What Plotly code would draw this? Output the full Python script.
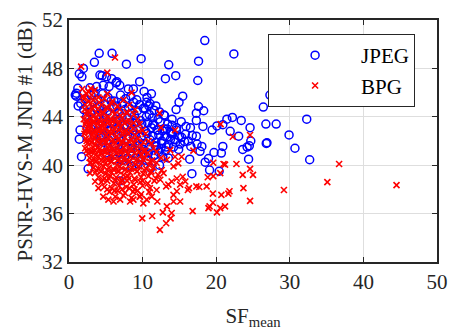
import plotly.graph_objects as go

# ---------------- JPEG (blue circles) ----------------
jpeg_sf = [
    9.8, 4.1, 5.85, 3.45, 1.95, 7.8, 18.45, 22.4, 17.6, 13.55,
    14.5, 13.1, 17.5, 9.6, 10.2, 15.45, 14.95, 14.55, 17.6, 18.3,
    17.3, 14.0, 15.25, 17.3, 21.45, 22.2, 23.4, 20.9, 20.1, 16.5,
    18.2, 19.45, 24.6, 26.4, 26.75, 28.15, 32.3, 27.3, 44.2, 29.9,
    30.7, 32.7, 26.8, 26.9, 24.4, 24.5, 23.6, 24.2, 24.7, 23.05,
    21.9, 20.9, 20.7, 20.4, 19.1, 19.7, 18.5, 18.95, 17.8, 18.05,
    17.4, 16.55, 16.4, 16.7, 17.3, 16.75, 15.8, 15.7, 15.1, 14.4,
    13.8, 13.05, 12.7, 12.9, 11.55, 10.85, 10.55, 11.4, 12.0, 11.9,
    11.7, 12.75, 12.3, 10.8, 11.1,
    1.0, 1.2, 1.4, 1.75, 1.25, 1.5, 1.4, 1.7, 2.6, 0.85,
    4.2, 5.1, 6.4, 6.9, 8.06, 2.85, 3.4, 3.75, 4.65, 5.45,
    8.75, 6.5, 5.8, 4.5,
    13.3, 13.9, 14.6, 15.3, 14.2, 13.1, 12.6, 14.9, 15.9, 16.2, 13.5, 14.0,
    1.0, 2.2, 3.0, 3.9, 4.6, 5.3, 6.1, 7.0, 7.7, 8.4, 9.2, 10.6, 11.2,
    1.6, 2.5, 3.3, 4.2, 4.9, 5.7, 6.5, 7.3, 8.1, 8.8, 9.6, 10.3, 11.0, 11.8,
    2.0, 2.9, 3.7, 4.5, 5.2, 6.0, 6.8, 7.6, 8.5, 9.3, 10.1, 10.9, 12.3,
    2.4, 3.2, 4.0, 4.8, 5.6, 6.4, 7.2, 8.0, 8.9, 9.7, 10.5, 11.3, 12.1, 13.0,
    2.7, 3.6, 4.4, 5.1, 5.9, 6.7, 7.5, 8.3, 9.1, 9.9, 10.7, 11.6, 12.4, 13.4,
    3.0, 3.9, 4.7, 5.5, 6.3, 7.1, 7.9, 8.7, 9.5, 10.4, 11.2, 12.0, 12.9, 13.8, 14.6,
    3.4, 4.3, 5.0, 5.8, 6.6, 7.4, 8.2, 9.0, 9.8, 10.6, 11.4, 12.2, 13.3, 14.1, 15.0,
    3.8, 4.6, 5.4, 6.2, 7.0, 7.8, 8.6, 9.4, 10.2, 11.0, 11.8, 12.6, 13.5, 14.5,
    4.5, 5.3, 6.1, 6.9, 7.7, 8.5, 9.3, 10.1, 10.9, 11.7, 12.5, 13.2,
    5.0, 6.0, 6.8, 7.6, 8.4, 9.2, 10.0, 10.8, 11.5, 12.2,
    6.3, 7.2, 8.0, 8.9, 9.7, 10.5,
    7.5, 8.5, 9.4, 6.9,
]
jpeg_psnr = [
    48.8, 49.25, 49.25, 48.5, 48.0, 48.35, 50.3, 49.2, 48.6, 48.3,
    47.4, 47.15, 47.0, 46.9, 46.1, 45.7, 45.2, 44.6, 44.85, 44.5,
    44.3, 43.8, 43.6, 43.7, 43.8, 43.95, 43.7, 43.35, 43.25, 43.1,
    43.2, 42.9, 43.1, 44.8, 43.4, 43.4, 43.8, 45.8, 45.8, 42.5,
    41.4, 40.45, 41.8, 41.85, 40.5, 41.6, 41.3, 41.5, 42.0, 42.4,
    42.8, 41.55, 41.0, 39.5, 39.6, 41.05, 40.25, 40.55, 41.15, 41.55,
    41.75, 41.55, 40.5, 39.3, 42.4, 42.45, 42.55, 41.95, 41.75, 42.1,
    42.15, 42.4, 42.85, 44.15, 44.55, 44.9, 45.2, 43.4, 42.9, 41.55,
    40.85, 40.7, 40.0, 40.45, 39.75,
    45.95, 46.35, 47.55, 47.3, 44.9, 42.9, 42.15, 40.7, 39.7, 45.8,
    47.45, 47.3, 46.8, 46.6, 46.3, 46.4, 46.0, 46.5, 46.6, 46.5,
    46.3, 46.9, 47.15, 47.4,
    43.0, 42.6, 42.9, 42.3, 41.5, 41.2, 41.8, 41.3, 43.2, 42.0, 40.6, 43.3,
    45.7, 45.5, 45.8, 45.4, 45.9, 45.6, 45.3, 45.8, 45.5, 45.7, 45.4, 45.6, 45.9,
    45.1, 44.9, 45.2, 44.8, 45.0, 45.3, 44.9, 45.1, 44.8, 45.2, 45.0, 44.7, 45.1, 44.9,
    44.6, 44.4, 44.7, 44.3, 44.5, 44.8, 44.4, 44.6, 44.3, 44.5, 44.7, 44.2, 44.4,
    44.0, 43.8, 44.1, 43.9, 44.2, 43.8, 44.0, 43.9, 44.1, 43.7, 44.0, 43.9, 43.8, 44.1,
    43.5, 43.3, 43.6, 43.4, 43.5, 43.7, 43.3, 43.5, 43.6, 43.4, 43.5, 43.3, 43.6, 43.4,
    43.0, 42.8, 43.1, 42.9, 43.0, 42.8, 43.2, 42.9, 43.0, 42.8, 43.1, 42.9, 43.0, 42.7, 43.1,
    42.5, 42.4, 42.6, 42.3, 42.5, 42.7, 42.4, 42.5, 42.3, 42.6, 42.4, 42.5, 42.3, 42.6, 42.4,
    42.0, 41.9, 42.1, 41.8, 42.0, 42.2, 41.9, 42.0, 41.8, 42.1, 41.9, 42.0, 41.7, 41.9,
    41.5, 41.4, 41.6, 41.3, 41.5, 41.4, 41.6, 41.3, 41.5, 41.6, 41.4, 41.5,
    41.0, 40.9, 41.1, 40.8, 41.0, 41.2, 40.9, 41.0, 40.8, 41.1,
    40.5, 40.4, 40.6, 40.3, 40.5, 40.4,
    40.0, 39.9, 40.1, 38.7,
]

# ---------------- BPG (red crosses) ----------------
bpg_sf = [
    1.65, 6.25, 5.2, 8.5, 2.95, 20.6, 22.25, 24.6, 14.4, 16.9,
    19.6, 21.0, 21.2, 22.75, 24.6, 25.0, 23.6, 20.55, 19.6, 18.85,
    18.7, 17.7, 17.3, 16.15, 16.3, 19.55, 20.7, 21.65, 21.8, 23.7,
    24.6, 18.95, 19.1, 19.55, 20.1, 20.55, 21.2, 16.8, 29.2, 35.1,
    36.7, 44.5, 9.95, 11.3, 12.35, 13.2, 13.8, 13.95, 12.75, 13.3,
    12.0, 14.2, 15.1, 14.2, 14.65, 15.1, 15.8, 15.45, 14.65, 13.95,
    13.5, 13.2, 14.2, 14.85, 15.3, 14.4, 13.75, 13.3, 12.85, 12.4,
    11.9, 11.25, 10.55, 10.1, 9.65, 8.75, 8.3, 6.95, 6.05, 5.35,
    4.65, 4.0, 3.55, 2.85, 2.85,
    1.8, 2.6, 3.5,
    1.9, 2.4, 3.1, 4.0, 5.2,
    2.0, 2.7, 3.3, 4.1, 4.8, 5.9, 7.4,
    2.2, 2.9, 3.6, 4.4, 5.1, 5.8, 6.6, 8.2,
    2.1, 2.6, 3.2, 3.9, 4.6, 5.3, 6.0, 6.9, 7.8, 9.0,
    2.3, 2.8, 3.4, 4.0, 4.7, 5.4, 6.2, 7.0, 7.9, 8.8, 12.3,
    2.0, 2.5, 3.0, 3.6, 4.3, 5.0, 5.7, 6.4, 7.2, 8.1, 9.3,
    2.2, 2.7, 3.3, 3.9, 4.5, 5.2, 5.9, 6.7, 7.5, 8.4, 9.6,
    2.4, 2.9, 3.5, 4.1, 4.8, 5.5, 6.2, 7.0, 7.8, 8.7, 10.0, 12.5,
    2.1, 2.6, 3.2, 3.8, 4.4, 5.1, 5.8, 6.5, 7.3, 8.1, 9.0, 10.4,
    2.3, 2.8, 3.4, 4.0, 4.7, 5.3, 6.0, 6.8, 7.6, 8.5, 9.4, 10.8,
    2.5, 3.0, 3.6, 4.2, 4.9, 5.6, 6.3, 7.1, 7.9, 8.8, 9.8, 11.2,
    2.2, 2.7, 3.3, 3.9, 4.5, 5.2, 5.9, 6.6, 7.4, 8.2, 9.1, 10.1, 11.5,
    2.6, 3.1, 3.7, 4.3, 5.0, 5.7, 6.4, 7.2, 8.0, 8.9, 9.8, 10.7, 11.9,
    2.8, 3.4, 4.0, 4.6, 5.3, 6.0, 6.8, 7.6, 8.4, 9.3, 10.3, 11.3, 12.5,
    3.0, 3.6, 4.3, 5.0, 5.7, 6.5, 7.3, 8.1, 9.0, 9.9, 10.9, 11.9,
    3.3, 4.0, 4.7, 5.4, 6.1, 6.9, 7.7, 8.6, 9.5, 10.5, 11.5, 12.6,
    3.6, 4.3, 5.0, 5.8, 6.6, 7.4, 8.3, 9.2, 10.1, 11.1, 12.1,
    4.0, 4.8, 5.6, 6.4, 7.2, 8.0, 8.9, 9.8, 10.8, 11.8,
    4.4, 5.2, 6.1, 7.0, 7.9, 8.8, 9.7, 10.7, 11.6,
    4.8, 5.8, 6.8, 7.8, 8.9, 10.0, 11.0,
    5.5, 6.6, 7.6, 8.7, 9.8, 10.9,
    6.3, 7.4, 8.5, 9.6,
    2.3, 2.8, 3.4, 4.1, 4.7, 5.4, 6.1, 6.9, 7.8, 8.8,
    2.2, 2.7, 3.3, 4.0, 4.6, 5.3, 6.0, 6.8, 7.6, 8.4, 9.5,
    2.4, 3.1, 3.8, 4.5, 5.1, 5.8, 6.6, 7.3, 8.1, 9.0, 10.1,
    2.4, 2.9, 3.5, 4.1, 4.8, 5.5, 6.2, 6.9, 7.7, 8.5, 9.5, 10.4,
    3.1, 3.7, 4.4, 5.1, 5.8, 6.6, 7.4, 8.2, 9.1, 10.0, 11.0,
    3.7, 4.4, 5.2, 6.0, 6.8, 7.6, 8.4, 9.3, 10.2, 11.2,
    4.6, 5.4, 6.3, 7.2, 8.1, 9.0, 10.0,
    5.2, 6.2, 7.2, 8.2, 9.3,
]
bpg_psnr = [
    48.15, 48.9, 47.65, 46.0, 46.35, 43.4, 42.35, 42.5, 42.9, 41.2,
    40.2, 40.1, 40.05, 40.1, 39.7, 39.2, 39.2, 39.35, 39.1, 39.0,
    38.25, 38.2, 38.25, 37.95, 38.1, 37.65, 37.55, 37.65, 37.85, 38.1,
    37.05, 36.45, 36.6, 36.9, 36.1, 36.45, 36.6, 36.2, 37.95, 38.6,
    40.1, 38.35, 35.6, 35.8, 34.65, 35.2, 35.6, 36.05, 36.1, 36.6,
    37.0, 37.0, 37.0, 37.55, 37.85, 38.4, 38.65, 39.05, 38.9, 38.65,
    38.4, 38.25, 39.9, 40.15, 40.7, 40.7, 41.25, 40.45, 39.35, 38.8,
    37.95, 37.4, 37.15, 36.85, 37.4, 37.15, 37.0, 37.15, 37.0, 37.15,
    37.4, 38.1, 38.65, 39.35, 40.2,
    46.3, 46.1, 46.2,
    45.7, 45.9, 45.8, 45.6, 45.9,
    45.5, 45.3, 45.4, 45.2, 45.5, 45.3, 45.4,
    45.0, 45.1, 44.9, 45.0, 44.8, 45.1, 44.9, 45.0,
    44.6, 44.5, 44.7, 44.6, 44.4, 44.7, 44.5, 44.6, 44.4, 44.6,
    44.2, 44.3, 44.1, 44.2, 44.3, 44.0, 44.2, 44.1, 44.3, 44.2, 44.3,
    43.8, 43.7, 43.9, 43.8, 43.6, 43.9, 43.7, 43.8, 43.9, 43.7, 43.8,
    43.4, 43.3, 43.5, 43.4, 43.2, 43.5, 43.3, 43.4, 43.5, 43.3, 43.4,
    43.0, 43.1, 42.9, 43.0, 43.1, 42.8, 43.0, 43.1, 42.9, 43.0, 42.9, 43.1,
    42.6, 42.7, 42.5, 42.6, 42.7, 42.5, 42.6, 42.4, 42.7, 42.6, 42.5, 42.6,
    42.2, 42.1, 42.3, 42.2, 42.0, 42.3, 42.1, 42.2, 42.3, 42.1, 42.2, 42.0,
    41.8, 41.9, 41.7, 41.8, 41.9, 41.6, 41.8, 41.9, 41.7, 41.8, 41.6, 41.8,
    41.4, 41.3, 41.5, 41.4, 41.2, 41.5, 41.3, 41.4, 41.5, 41.3, 41.4, 41.2, 41.4,
    41.0, 41.1, 40.9, 41.0, 41.1, 40.8, 41.0, 41.1, 40.9, 41.0, 40.8, 41.0, 41.1,
    40.6, 40.5, 40.7, 40.6, 40.4, 40.7, 40.5, 40.6, 40.7, 40.5, 40.6, 40.4, 40.6,
    40.2, 40.3, 40.1, 40.2, 40.3, 40.0, 40.2, 40.3, 40.1, 40.2, 40.0, 40.2,
    39.8, 39.7, 39.9, 39.8, 39.6, 39.9, 39.7, 39.8, 39.9, 39.7, 39.8, 39.6,
    39.4, 39.5, 39.3, 39.4, 39.5, 39.2, 39.4, 39.5, 39.3, 39.4, 39.2,
    39.0, 38.9, 39.1, 39.0, 38.8, 39.1, 38.9, 39.0, 39.1, 38.9,
    38.6, 38.7, 38.5, 38.6, 38.7, 38.4, 38.6, 38.5, 38.7,
    38.2, 38.1, 38.3, 38.2, 38.0, 38.3, 38.1,
    37.8, 37.9, 37.7, 37.8, 37.6, 37.8,
    37.4, 37.5, 37.3, 37.4,
    43.6, 43.5, 43.6, 43.7, 43.5, 43.6, 43.7, 43.5, 43.6, 43.5,
    42.8, 42.9, 42.7, 42.8, 42.9, 42.7, 42.8, 42.9, 42.7, 42.8, 42.8,
    42.0, 41.9, 42.0, 42.1, 41.9, 42.0, 42.1, 41.9, 42.0, 42.1, 41.9,
    41.2, 41.1, 41.2, 41.3, 41.1, 41.2, 41.3, 41.1, 41.2, 41.3, 41.1, 41.2,
    40.4, 40.3, 40.4, 40.5, 40.3, 40.4, 40.5, 40.3, 40.4, 40.5, 40.3,
    39.6, 39.5, 39.6, 39.7, 39.5, 39.6, 39.7, 39.5, 39.6, 39.5,
    38.8, 38.9, 38.8, 38.7, 38.9, 38.8, 38.7,
    38.0, 37.9, 38.0, 38.1, 37.9,
]

x_ticks = [0, 10, 20, 30, 40, 50]
y_ticks = [32, 36, 40, 44, 48, 52]

FONT = "Liberation Serif, Times New Roman, serif"
TXT = "#262626"

fig = go.Figure()
fig.add_trace(go.Scatter(
    x=jpeg_sf, y=jpeg_psnr, mode="markers", name="JPEG",
    marker=dict(symbol="circle-open", size=8, color="#0000ff",
                line=dict(width=1.5, color="#0000ff")),
))
fig.add_trace(go.Scatter(
    x=bpg_sf, y=bpg_psnr, mode="markers", name="BPG",
    marker=dict(symbol="x-thin-open", size=6, color="#ff0000",
                line=dict(width=1.6, color="#ff0000")),
))

axis_common = dict(
    showline=True, linecolor=TXT, linewidth=1.5, mirror="ticks",
    ticks="inside", ticklen=5, tickwidth=1.2, tickcolor=TXT,
    showgrid=True, gridcolor="#dedede", gridwidth=1.3, zeroline=False,
    tickfont=dict(family=FONT, size=21, color=TXT),
)

fig.update_xaxes(
    range=[0, 50], tickvals=x_ticks, ticktext=[str(v) for v in x_ticks],
    title=dict(text="SF<sub>mean</sub>", font=dict(family=FONT, size=21, color=TXT), standoff=15),
    **axis_common,
)
fig.update_yaxes(
    range=[32, 52], tickvals=y_ticks, ticktext=[str(v) for v in y_ticks],
    title=dict(text="PSNR-HVS-M JND #1 (dB)", font=dict(family=FONT, size=21, color=TXT), standoff=4),
    **axis_common,
)

fig.update_layout(
    width=451, height=333,
    margin=dict(l=69, r=14, t=20, b=71, autoexpand=False),
    plot_bgcolor="white", paper_bgcolor="white",
    showlegend=True,
    legend=dict(
        x=0.541, y=0.942, xanchor="left", yanchor="top",
        bordercolor=TXT, borderwidth=1, bgcolor="white",
        font=dict(family=FONT, size=21, color="#000000"),
        itemwidth=82, tracegroupgap=0,
    ),
)

fig.write_html(
    "out.html",
    config={"displayModeBar": False},
    post_script="document.body.style.margin='0';document.body.style.overflow='hidden';",
)
